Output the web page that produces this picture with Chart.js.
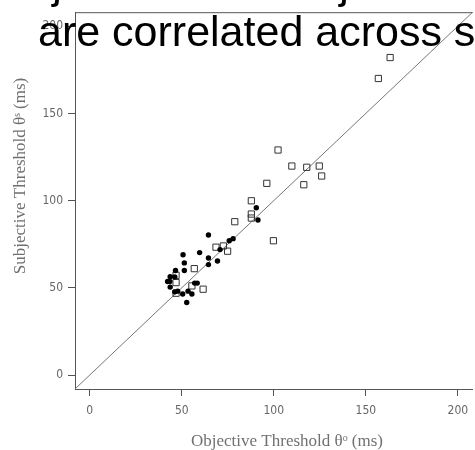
<!DOCTYPE html>
<html>
<head>
<meta charset="utf-8">
<script src="https://cdn.jsdelivr.net/npm/chart.js@4.4.1/dist/chart.umd.min.js"></script>
<style>
  html, body { margin: 0; padding: 0; background: #fff; overflow: hidden; }
  #wrap { width: 478px; height: 450px; }
</style>
</head>
<body>
<div id="wrap"><canvas id="scatterChart" width="478" height="450"></canvas></div>
<script>
var tickValues = [0, 50, 100, 150, 200];

// open squares: objective vs subjective threshold (ms)
var squareObj = [163.2, 156.8, 102.3, 109.8, 117.9, 124.7, 126.0, 116.3, 96.2, 87.8, 87.8, 87.8, 78.8, 99.8, 74.9, 68.6, 72.6, 56.8, 46.9, 46.9, 55.5, 61.6, 46.9];
var squareSubj = [182.0, 170.0, 129.0, 119.8, 119.1, 119.8, 114.1, 109.1, 109.9, 99.9, 92.3, 90.0, 87.9, 77.0, 71.0, 73.3, 74.0, 61.0, 57.2, 53.0, 51.1, 49.2, 46.9];

// filled circles
var circleObj = [90.5, 91.4, 77.9, 75.8, 64.5, 70.8, 59.7, 50.7, 64.5, 69.4, 51.4, 64.5, 51.4, 46.6, 43.7, 46.2, 42.3, 43.5, 43.7, 57.0, 58.4, 53.4, 47.8, 46.2, 50.5, 55.5, 52.7];
var circleSubj = [95.9, 88.9, 78.2, 77.0, 80.3, 71.9, 70.2, 69.0, 67.1, 65.4, 64.3, 63.3, 59.9, 59.9, 56.4, 56.3, 53.6, 53.6, 50.4, 52.7, 52.7, 48.1, 48.1, 47.7, 46.5, 46.5, 41.6];

// identity line y = x
var identityX = [-10, 215];

var titleLines = ['Objective and subjective thresholds', 'are correlated across subjects'];
var xTitle = 'Objective Threshold \u03B8\u1D52 (ms)';
var yTitle = 'Subjective Threshold \u03B8\u02E2 (ms)';

function toPoints(xs, ys) {
    return xs.map(function (x, i) { return { x: x, y: ys[i] }; });
}

var tickFont = { family: "'Liberation Sans Narrow', 'DejaVu Sans Condensed', 'Liberation Sans', Arial, sans-serif", size: 12 };

var framePlugin = {
    id: 'frameAndText',
    afterDraw: function (chart) {
        var ctx = chart.ctx;
        var a = chart.chartArea;
        ctx.save();
        ctx.strokeStyle = '#555';
        ctx.lineWidth = 1;
        ctx.beginPath();
        ctx.moveTo(a.left, a.top + 0.5);
        ctx.lineTo(a.right, a.top + 0.5);
        ctx.stroke();

        ctx.fillStyle = '#707070';
        ctx.font = "17px 'Liberation Serif', 'Times New Roman', serif";
        ctx.textAlign = 'center';
        ctx.textBaseline = 'middle';
        ctx.fillText(xTitle, 287, 442);
        ctx.translate(21, 176);
        ctx.rotate(-Math.PI / 2);
        ctx.fillText(yTitle, 0, 0);
        ctx.restore();

        ctx.save();
        ctx.fillStyle = '#000';
        ctx.font = "43px 'Liberation Sans', Arial, sans-serif";
        ctx.textAlign = 'left';
        ctx.textBaseline = 'alphabetic';
        ctx.fillText(titleLines[0], -5, -2);
        ctx.fillText(titleLines[1], 38, 46);
        ctx.restore();
    }
};

new Chart(document.getElementById('scatterChart').getContext('2d'), {
    type: 'scatter',
    data: {
        datasets: [
            {
                label: 'filled',
                data: toPoints(circleObj, circleSubj),
                pointStyle: 'circle',
                pointRadius: 2.7,
                backgroundColor: '#000',
                borderColor: '#000',
                borderWidth: 0
            },
            {
                label: 'open',
                data: toPoints(squareObj, squareSubj),
                pointStyle: 'rect',
                pointRadius: 4.4,
                backgroundColor: 'rgba(0,0,0,0)',
                borderColor: '#333',
                borderWidth: 1
            },
            {
                type: 'line',
                label: 'identity',
                data: toPoints(identityX, identityX),
                borderColor: '#777',
                borderWidth: 1,
                pointRadius: 0,
                fill: false
            }
        ]
    },
    options: {
        responsive: false,
        animation: false,
        devicePixelRatio: 1,
        layout: { padding: { top: 12, right: 0, left: 0, bottom: 0 } },
        plugins: {
            legend: { display: false },
            tooltip: { enabled: false }
        },
        scales: {
            x: {
                type: 'linear',
                min: -8,
                max: 208,
                afterBuildTicks: function (s) { s.ticks = tickValues.map(function (v) { return { value: v }; }); },
                afterFit: function (s) { s.height = 61; },
                grid: { drawOnChartArea: false, drawTicks: true, tickLength: 7, color: '#555' },
                border: { display: true, color: '#555' },
                ticks: { color: '#666', font: tickFont, padding: 8, maxRotation: 0 }
            },
            y: {
                type: 'linear',
                min: -8,
                max: 208,
                afterBuildTicks: function (s) { s.ticks = tickValues.map(function (v) { return { value: v }; }); },
                afterFit: function (s) { s.width = 75; },
                grid: { drawOnChartArea: false, drawTicks: true, tickLength: 7, color: '#555' },
                border: { display: true, color: '#555' },
                ticks: { color: '#666', font: tickFont, padding: 5 }
            }
        }
    },
    plugins: [framePlugin]
});
</script>
</body>
</html>
